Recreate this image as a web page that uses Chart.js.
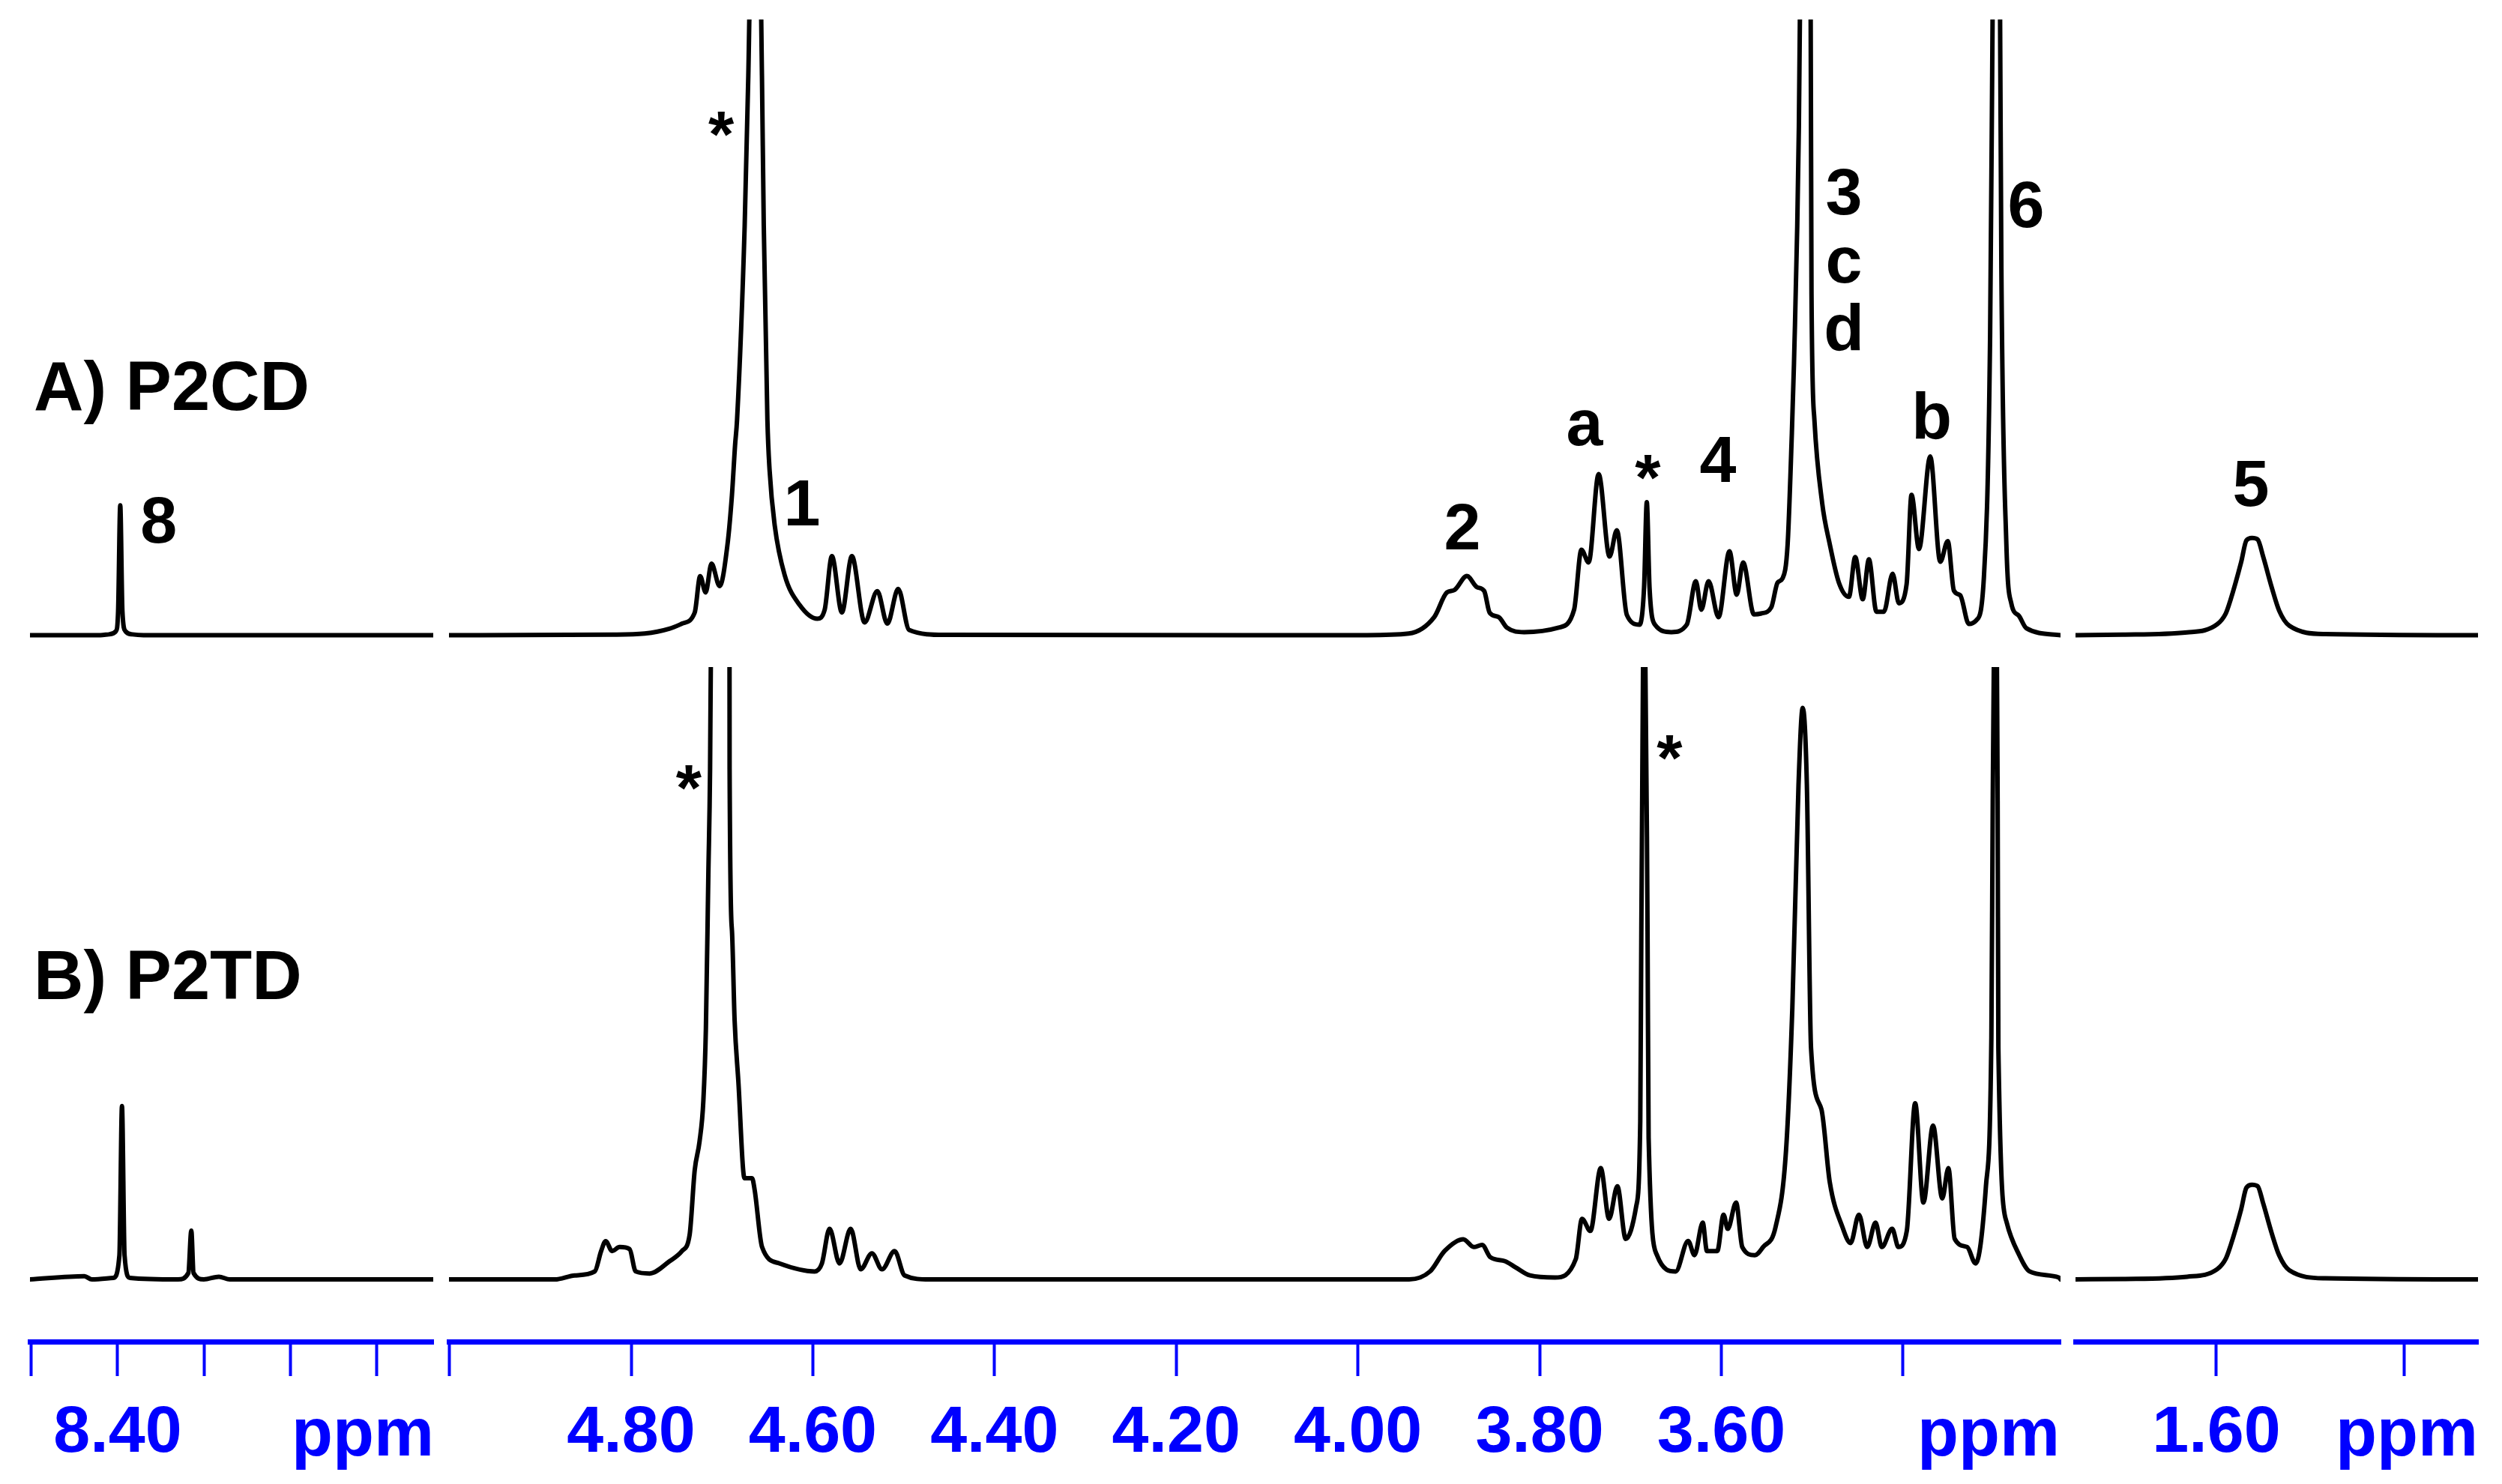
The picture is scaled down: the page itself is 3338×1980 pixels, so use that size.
<!DOCTYPE html>
<html>
<head>
<meta charset="utf-8">
<script src="https://cdn.jsdelivr.net/npm/chart.js@4.4.0/dist/chart.umd.min.js"></script>
<style>
  html, body { margin: 0; padding: 0; background: #fff; overflow: hidden; }
  canvas { position: absolute; top: 0; }
</style>
</head>
<body>
<canvas id="pLeft" width="558" height="1980" style="left:30px"></canvas>
<canvas id="pMid" width="2170" height="1980" style="left:589px"></canvas>
<canvas id="pRight" width="557" height="1980" style="left:2759px"></canvas>
<script>
// 1H-NMR, A) P2CD oben, B) P2TD unten, x-Achse in ppm mit drei Ausschnitten

// linker Ausschnitt (8.5 - 8.03 ppm)
const ppmAleft = [8.5017, 8.420, 8.410, 8.402, 8.3995, 8.397, 8.3945, 8.391, 8.383, 8.370, 8.034];
const intAleft = [0, 0, 0.5, 2.5, 15, 81.4, 15, 2.5, 0.5, 0, 0];
const ppmBleft = [8.5017, 8.4386, 8.430, 8.405, 8.398, 8.395, 8.392, 8.386, 8.330, 8.318, 8.3146, 8.312, 8.300, 8.2826, 8.270, 8.034];
const intBleft = [0, 2, 0, 1, 15, 108.7, 15, 1, 0, 4, 30.6, 4, 0, 1.7, 0, 0];

// mittlerer Ausschnitt (5.0 - 3.23 ppm)
const ppmAmid = [
  5.000, 4.820, 4.785, 4.758, 4.744, 4.730, 4.724, 4.718, 4.7115, 4.7026, 4.694, 4.689, 4.6856, 4.6834,
  4.675, 4.671, 4.663, 4.656, 4.654, 4.650, 4.6476, 4.642, 4.631, 4.6146, 4.595, 4.587, 4.579, 4.568,
  4.557, 4.543, 4.529, 4.518, 4.506, 4.494, 4.455, 3.990, 3.944, 3.916, 3.902, 3.894, 3.880, 3.869,
  3.861, 3.855, 3.845, 3.836, 3.817, 3.779, 3.762, 3.754, 3.746, 3.735, 3.723, 3.715, 3.704, 3.690,
  3.685, 3.682, 3.679, 3.673, 3.655, 3.638, 3.628, 3.622, 3.614, 3.603, 3.591, 3.583, 3.576, 3.564,
  3.556, 3.545, 3.538, 3.5325, 3.527, 3.5226, 3.520, 3.5146, 3.5135, 3.508, 3.5016, 3.5007, 3.4975,
  3.489, 3.4806, 3.4706, 3.4595, 3.4526, 3.4443, 3.4375, 3.4292, 3.421, 3.4114, 3.4045, 3.396, 3.3906,
  3.3824, 3.370, 3.359, 3.3507, 3.344, 3.337, 3.3275, 3.3192, 3.311, 3.3041, 3.3014, 3.297, 3.2931,
  3.2917, 3.2862, 3.2808, 3.2725, 3.2643, 3.2266
];
const intAmid = [
  0, 0.3, 1, 4, 7.2, 14.2, 37, 26.8, 44.8, 30.7, 56.5, 88, 119, 135,
  257, 351, 600, 351, 257, 135, 103.5, 69, 37.7, 19, 10.3, 15.8, 49.5, 14.2,
  49.5, 8, 27.6, 7.2, 29, 3.3, 0.2, 0, 1, 11.3, 26.8, 28.2, 37.1, 30.1,
  27.7, 14.1, 11.3, 4.7, 1.9, 4.7, 16, 53.5, 45.6, 101, 49.3, 65.8, 12.7, 6.6,
  30, 83.4, 30, 6.6, 1.9, 6.6, 33.8, 16, 33.8, 11.3, 52.6, 25.4, 45.6, 13,
  13.6, 17.4, 33, 35.7, 56.8, 122, 170, 319, 385, 560, 385, 214, 135,
  83, 57, 33, 24, 49, 22.5, 47.5, 14.7, 14.7, 38.5, 20, 32, 88,
  54, 112, 46, 59, 28, 25, 7, 9.4, 35.7, 188, 385, 700, 385,
  230, 57, 20, 12.2, 4.4, 0
];
const ppmBmid = [
  5.000, 4.884, 4.862, 4.840, 4.833, 4.828, 4.821, 4.8126, 4.8017, 4.795, 4.7796, 4.7577, 4.744, 4.7356,
  4.730, 4.7247, 4.7205, 4.7177, 4.715, 4.7131, 4.7123, 4.702, 4.6917, 4.6916, 4.689, 4.6861, 4.682,
  4.6752, 4.6669, 4.664, 4.6559, 4.6366, 4.598, 4.590, 4.5816, 4.5706, 4.5583, 4.5473, 4.535, 4.5238,
  4.510, 4.499, 4.4716, 3.9436, 3.9206, 3.9046, 3.884, 3.8725, 3.8633, 3.8542, 3.838, 3.8266, 3.8106,
  3.7831, 3.7602, 3.7533, 3.7441, 3.7327, 3.7235, 3.7144, 3.7052, 3.6937, 3.6892, 3.6880, 3.6846,
  3.6812, 3.680, 3.6708, 3.6502, 3.6365, 3.6295, 3.6204, 3.6158, 3.6044, 3.5975, 3.5929, 3.5837,
  3.5769, 3.5631, 3.554, 3.5402, 3.5287, 3.5218, 3.515, 3.5104, 3.5058, 3.5012, 3.4898, 3.4806,
  3.4668, 3.4577, 3.4485, 3.4394, 3.4302, 3.4233, 3.4119, 3.405, 3.3958, 3.3866, 3.3775, 3.3669,
  3.3568, 3.350, 3.3431, 3.3294, 3.3201, 3.3087, 3.3027, 3.3012, 3.2982, 3.2958, 3.295, 3.2858,
  3.272, 3.2606, 3.2285, 3.2266
];
const intBmid = [
  0, 0, 2.5, 5, 17.8, 24, 17.8, 20.3, 19, 5, 3.7, 11.4, 17.8, 28,
  68.6, 86.4, 112, 157.5, 254, 320, 384, 520, 384, 320, 218.6, 162.6, 124.5,
  63.5, 63.5, 56, 20.3, 10, 5, 10, 31.7, 10, 31.7, 6.3, 16.4, 6.3,
  17.8, 2.5, 0, 0, 5, 17.8, 25.2, 20.3, 21.6, 13.9, 11.4, 7.6, 2.5,
  1.2, 12.7, 38, 30.4, 69.8, 38, 58.4, 25.4, 45.7, 99.1, 220, 450,
  220, 88.9, 15.2, 5, 24.1, 15.2, 35.6, 17.8, 17.8, 40.6, 31.7, 48.2,
  20.3, 15.2, 20.3, 33, 81.2, 170.2, 310, 358.4, 310, 144.8, 106.7, 61,
  33, 22.8, 40.6, 20.3, 35.6, 20.3, 31.7, 20.3, 30.4, 110.5, 48.2, 96.5,
  50.8, 69.8, 25.4, 20.3, 10, 58.4, 152, 300, 450, 300, 145, 35.6,
  15.2, 5, 1.2, 0
];

// rechter Ausschnitt (1.75 - 1.32 ppm)
const ppmAright = [1.7504, 1.700, 1.6312, 1.5992, 1.590, 1.585, 1.5736, 1.568, 1.562, 1.556, 1.550, 1.541, 1.533, 1.522, 1.484, 1.3208];
const intAright = [0, 0.3, 1.7, 6.8, 13.6, 22, 45.8, 59.4, 61, 60, 49, 30, 15.3, 5.8, 0.7, 0];
const ppmBright = [1.7504, 1.700, 1.6312, 1.5992, 1.590, 1.585, 1.5736, 1.568, 1.562, 1.556, 1.550, 1.541, 1.533, 1.522, 1.484, 1.3208];
const intBright = [0, 0.3, 1.7, 6.4, 13, 21, 44, 57.5, 59.4, 58.5, 47.5, 29, 15, 5.6, 0.7, 0];

// Ticks und beschriftete Ticks
const leftTicks = [8.5, 8.4, 8.3, 8.2, 8.1];
const midTicks = [5.0, 4.8, 4.6, 4.4, 4.2, 4.0, 3.8, 3.6, 3.4];
const rightTicks = [1.6, 1.4];
const leftTickLabels = ['8.40'];
const midTickLabels = ['4.80', '4.60', '4.40', '4.20', '4.00', '3.80', '3.60'];
const rightTickLabels = ['1.60'];

const BLUE = '#0000ff';
const FONT = "'Liberation Sans', Arial, Helvetica, sans-serif";

function pts(xs, ys) {
  return xs.map((x, i) => ({ x: x, y: ys[i] }));
}

// Peak-Beschriftungen und "ppm"
const peakNotes = {
  id: 'peakNotes',
  afterDraw(chart, args, opts) {
    const ctx = chart.ctx;
    const xs = chart.scales.x;
    ctx.save();
    (opts.items || []).forEach(n => {
      const px = xs.getPixelForValue(n.ppm);
      const py = n.axis === 'x' ? chart.chartArea.bottom + 152 : chart.scales[n.axis].getPixelForValue(n.h);
      ctx.font = 'bold ' + (n.size || 88) + 'px ' + FONT;
      ctx.fillStyle = n.axis === 'x' ? BLUE : '#000';
      ctx.textAlign = n.align || 'center';
      ctx.textBaseline = 'alphabetic';
      ctx.fillText(n.text, px, py);
    });
    ctx.restore();
  }
};

function drawPanel(id, min, max, tickValues, tickLabels, dataA, dataB, notes) {
  new Chart(document.getElementById(id), {
    type: 'line',
    data: {
      datasets: [
        { label: 'A) P2CD', data: dataA, yAxisID: 'yA' },
        { label: 'B) P2TD', data: dataB, yAxisID: 'yB' }
      ]
    },
    options: {
      responsive: false,
      animation: false,
      layout: { padding: { top: 26, left: 10, right: 10, bottom: 0 } },
      elements: {
        line: { borderColor: '#000', borderWidth: 6, tension: 0, cubicInterpolationMode: 'monotone', fill: false, borderJoinStyle: 'round', borderCapStyle: 'round' },
        point: { radius: 0 }
      },
      plugins: {
        legend: { display: false },
        tooltip: { enabled: false },
        peakNotes: { items: notes }
      },
      scales: {
        x: {
          type: 'linear',
          reverse: true,
          min: min,
          max: max,
          bounds: 'data',
          afterBuildTicks: s => { s.ticks = tickValues.map(v => ({ value: v })); },
          afterFit: s => { s.height = 190; s.paddingLeft = 0; s.paddingRight = 0; },
          border: { display: true, color: BLUE, width: 7 },
          grid: { display: true, drawOnChartArea: false, drawTicks: true, tickLength: 46, tickWidth: 4, tickColor: BLUE },
          ticks: {
            autoSkip: false,
            maxRotation: 0,
            minRotation: 0,
            padding: 24,
            color: BLUE,
            font: { family: FONT, size: 88, weight: 'bold' },
            callback: v => {
              const s = Number(v).toFixed(2);
              return tickLabels.includes(s) ? s : '';
            }
          }
        },
        yB: { type: 'linear', position: 'left', stack: 'spec', stackWeight: 900, min: -39, max: 384, bounds: 'data', display: false },
        yA: { type: 'linear', position: 'left', stack: 'spec', stackWeight: 864, min: -20, max: 386, bounds: 'data', display: false }
      }
    },
    plugins: [peakNotes]
  });
}

drawPanel('pLeft', 8.034, 8.5017, leftTicks, leftTickLabels,
  pts(ppmAleft, intAleft), pts(ppmBleft, intBleft), [
    { text: 'A) P2CD', ppm: 8.4974, h: 141.4, axis: 'yA', align: 'left', size: 92 },
    { text: 'B) P2TD', ppm: 8.4974, h: 175.7, axis: 'yB', align: 'left', size: 92 },
    { text: '8', ppm: 8.3524, h: 58, axis: 'yA' },
    { text: 'ppm', ppm: 8.1157, axis: 'x', size: 90 }
  ]);

drawPanel('pMid', 3.2266, 5.0005, midTicks, midTickLabels,
  pts(ppmAmid, intAmid), pts(ppmBmid, intBmid), [
    { text: '*', ppm: 4.701, h: 300, axis: 'yA' },
    { text: '1', ppm: 4.612, h: 69, axis: 'yA' },
    { text: '2', ppm: 3.885, h: 54, axis: 'yA' },
    { text: 'a', ppm: 3.7505, h: 119, axis: 'yA' },
    { text: '*', ppm: 3.681, h: 85, axis: 'yA' },
    { text: '4', ppm: 3.6036, h: 96, axis: 'yA' },
    { text: '3', ppm: 3.465, h: 264, axis: 'yA' },
    { text: 'c', ppm: 3.465, h: 221, axis: 'yA' },
    { text: 'd', ppm: 3.465, h: 179, axis: 'yA' },
    { text: 'b', ppm: 3.3685, h: 123.5, axis: 'yA' },
    { text: '6', ppm: 3.2645, h: 256, axis: 'yA' },
    { text: '*', ppm: 4.7365, h: 294, axis: 'yB' },
    { text: '*', ppm: 3.657, h: 313, axis: 'yB' },
    { text: 'ppm', ppm: 3.3058, axis: 'x', size: 90 }
  ]);

drawPanel('pRight', 1.3208, 1.7504, rightTicks, rightTickLabels,
  pts(ppmAright, intAright), pts(ppmBright, intBright), [
    { text: '5', ppm: 1.5632, h: 81, axis: 'yA' },
    { text: 'ppm', ppm: 1.3968, axis: 'x', size: 90 }
  ]);
</script>
</body>
</html>
